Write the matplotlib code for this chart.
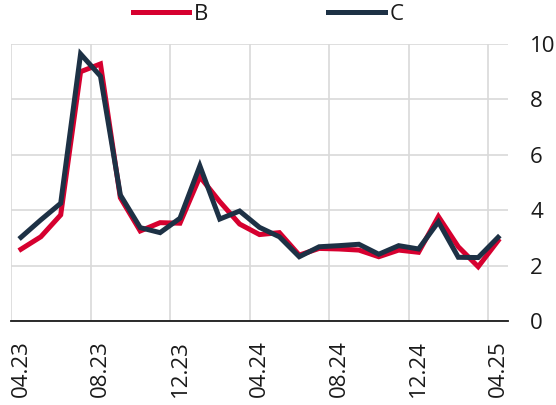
import matplotlib.pyplot as plt
import numpy as np

plt.rcParams['font.family'] = ['Open Sans', 'DejaVu Sans']

months = ['04.23', '05.23', '06.23', '07.23', '08.23', '09.23', '10.23', '11.23', '12.23',
          '01.24', '02.24', '03.24', '04.24', '05.24', '06.24', '07.24', '08.24', '09.24',
          '10.24', '11.24', '12.24', '01.25', '02.25', '03.25', '04.25']
b_vals = [2.59, 3.04, 3.83, 9.0, 9.28, 4.45, 3.25, 3.55, 3.53, 5.21, 4.31, 3.5, 3.12,
          3.19, 2.38, 2.62, 2.6, 2.56, 2.32, 2.56, 2.48, 3.77, 2.68, 1.96, 2.9]
c_vals = [3.02, 3.65, 4.25, 9.64, 8.84, 4.55, 3.37, 3.19, 3.71, 5.6, 3.68, 3.97, 3.38,
          3.04, 2.32, 2.68, 2.72, 2.77, 2.41, 2.72, 2.6, 3.58, 2.3, 2.29, 3.02]

red = '#d6002f'
navy = '#1d3145'
txt = '#1a1a1a'

fig = plt.figure(figsize=(5.56, 4.05), dpi=100)
ax = fig.add_axes([11 / 556, 1 - 321 / 405, 497 / 556, 277 / 405])

x = np.arange(len(months))
ax.plot(x, b_vals, color=red, lw=3.6, label='B', solid_joinstyle='miter')
ax.plot(x, c_vals, color=navy, lw=3.6, label='C', solid_joinstyle='miter')

ax.set_xlim(-0.5, len(months) - 0.5)
ax.set_ylim(0, 10)
ax.set_xticks(x[::4])
ax.set_xticklabels(months[::4], rotation=90, fontsize=16, color=txt)
ax.set_xticks(np.arange(-0.5, len(months) - 1, 4), minor=True)
ax.set_yticks(range(0, 11, 2))
ax.yaxis.tick_right()
ax.tick_params(axis='y', length=0, pad=16, labelsize=16, labelcolor=txt)
ax.tick_params(axis='x', which='both', length=0, pad=14)

ax.grid(axis='y', color='#d9d9d9', lw=1.2)
ax.grid(axis='x', which='minor', color='#d9d9d9', lw=1.2)
ax.set_axisbelow(True)
for s in ['top', 'right', 'left']:
    ax.spines[s].set_visible(False)
ax.spines['bottom'].set_color('#1a1a1a')
ax.spines['bottom'].set_linewidth(1.3)

leg = fig.legend(loc='upper center', bbox_to_anchor=(0.482, 1.04), ncol=2, frameon=False,
                 fontsize=16, handlelength=2.55, handletextpad=0.2, columnspacing=5.4)
for t in leg.get_texts():
    t.set_color(txt)

fig.savefig('out.png', dpi=100)
